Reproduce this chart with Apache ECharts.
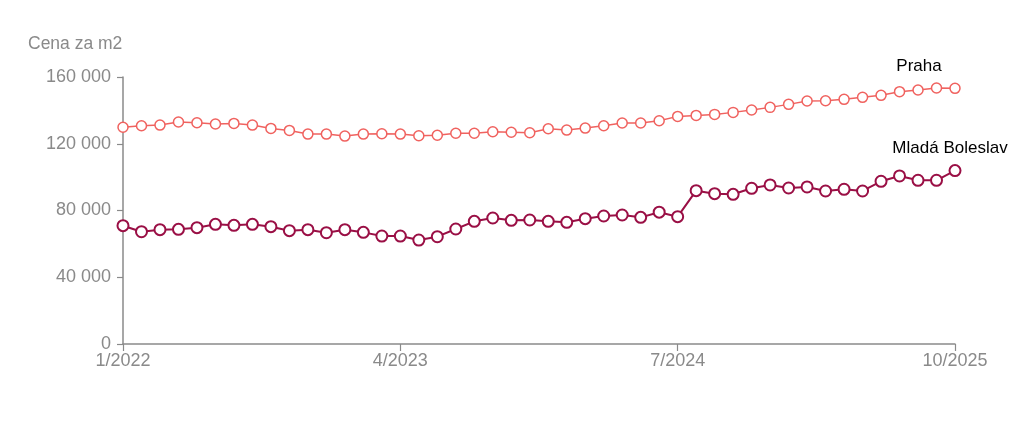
<!DOCTYPE html>
<html>
<head>
<meta charset="utf-8">
<script src="https://cdn.jsdelivr.net/npm/echarts@6/dist/echarts.min.js"></script>
<style>
    html, body { margin: 0; padding: 0; background: #fff; }
    #chart { width: 1024px; height: 424px; }
</style>
</head>
<body>
<div id="chart"></div>
<script>
// mesice 1/2022 .. 10/2025
var months = [
    "1/2022", "2/2022", "3/2022", "4/2022", "5/2022", "6/2022", "7/2022", "8/2022", "9/2022", "10/2022", "11/2022", "12/2022",
    "1/2023", "2/2023", "3/2023", "4/2023", "5/2023", "6/2023", "7/2023", "8/2023", "9/2023", "10/2023", "11/2023", "12/2023",
    "1/2024", "2/2024", "3/2024", "4/2024", "5/2024", "6/2024", "7/2024", "8/2024", "9/2024", "10/2024", "11/2024", "12/2024",
    "1/2025", "2/2025", "3/2025", "4/2025", "5/2025", "6/2025", "7/2025", "8/2025", "9/2025", "10/2025"
];

var praha = [
    129900, 130800, 131200, 133000, 132600, 131800, 132200, 131200, 129200, 128000, 125800, 125800,
    124600, 125800, 126000, 125800, 124800, 125100, 126300, 126300, 127200, 126900, 126600, 129000,
    128200, 129400, 130800, 132400, 132400, 133800, 136400, 137000, 137600, 138800, 140200, 141800,
    143600, 145600, 145800, 146600, 147800, 149000, 151200, 152200, 153400, 153200
];

var boleslav = [
    70900, 67300, 68500, 68700, 69700, 71700, 71100, 71700, 70300, 67900, 68500, 66700,
    68500, 66900, 64700, 64700, 62300, 64300, 68900, 73500, 75500, 74100, 74300, 73500,
    72900, 75100, 76700, 77300, 75900, 79000, 76300, 91900, 90100, 89700, 93300, 95300,
    93500, 94100, 91700, 92700, 91700, 97500, 100700, 98100, 98100, 103900
];

var yTicks = [0, 40000, 80000, 120000, 160000];

var axisGrey = "#8a8a8a";
var labelFont = "'Liberation Sans', Arial, sans-serif";

// popisek jen u posledniho bodu
function withEndLabel(values, text, offset) {
    return values.map(function (v, i) {
        if (i !== values.length - 1) return v;
        return {
            value: v,
            label: {
                show: true,
                formatter: text,
                position: "top",
                offset: offset,
                color: "#000",
                fontSize: 17,
                fontFamily: labelFont
            }
        };
    });
}

var myChart = echarts.init(document.getElementById("chart"), null, { renderer: "canvas" });

var option = {
    backgroundColor: "#fff",
    animation: false,
    grid: {
        left: 123,
        right: 69,
        top: 77,
        bottom: 80
    },
    title: {
        text: "Cena za m2",
        left: 23,
        top: 30,
        textStyle: {
            color: axisGrey,
            fontSize: 17.5,
            fontWeight: "normal",
            fontFamily: labelFont
        }
    },
    xAxis: {
        type: "category",
        data: months,
        boundaryGap: false,
        axisLine: { show: true, lineStyle: { color: axisGrey, width: 1.5 } },
        axisTick: {
            show: true,
            interval: 14,
            length: 7,
            lineStyle: { color: axisGrey, width: 1.2 }
        },
        axisLabel: {
            interval: 14,
            margin: 8,
            color: axisGrey,
            fontSize: 18,
            fontFamily: labelFont
        },
        splitLine: { show: false }
    },
    yAxis: {
        type: "value",
        min: yTicks[0],
        max: yTicks[yTicks.length - 1],
        interval: 40000,
        axisLine: { show: true, lineStyle: { color: axisGrey, width: 1.5 } },
        axisTick: { show: true, length: 6, lineStyle: { color: axisGrey, width: 1.2 } },
        axisLabel: {
            margin: 12,
            color: axisGrey,
            fontSize: 18,
            fontFamily: labelFont,
            formatter: function (v) {
                return String(v).replace(/\B(?=(\d{3})+(?!\d))/g, " ");
            }
        },
        splitLine: { show: false }
    },
    series: [
        {
            name: "Praha",
            type: "line",
            data: withEndLabel(praha, "Praha", [-36, -3]),
            symbol: "circle",
            symbolSize: 10,
            showAllSymbol: true,
            lineStyle: { color: "#f0625f", width: 1.5 },
            itemStyle: { color: "#fff", borderColor: "#f0625f", borderWidth: 1.5 },
            z: 3
        },
        {
            name: "Mladá Boleslav",
            type: "line",
            data: withEndLabel(boleslav, "Mladá Boleslav", [-5, -2]),
            symbol: "circle",
            symbolSize: 11,
            showAllSymbol: true,
            lineStyle: { color: "#9a0f45", width: 2 },
            itemStyle: { color: "#fff", borderColor: "#9a0f45", borderWidth: 2 },
            z: 4
        }
    ]
};

myChart.setOption(option);
</script>
</body>
</html>
